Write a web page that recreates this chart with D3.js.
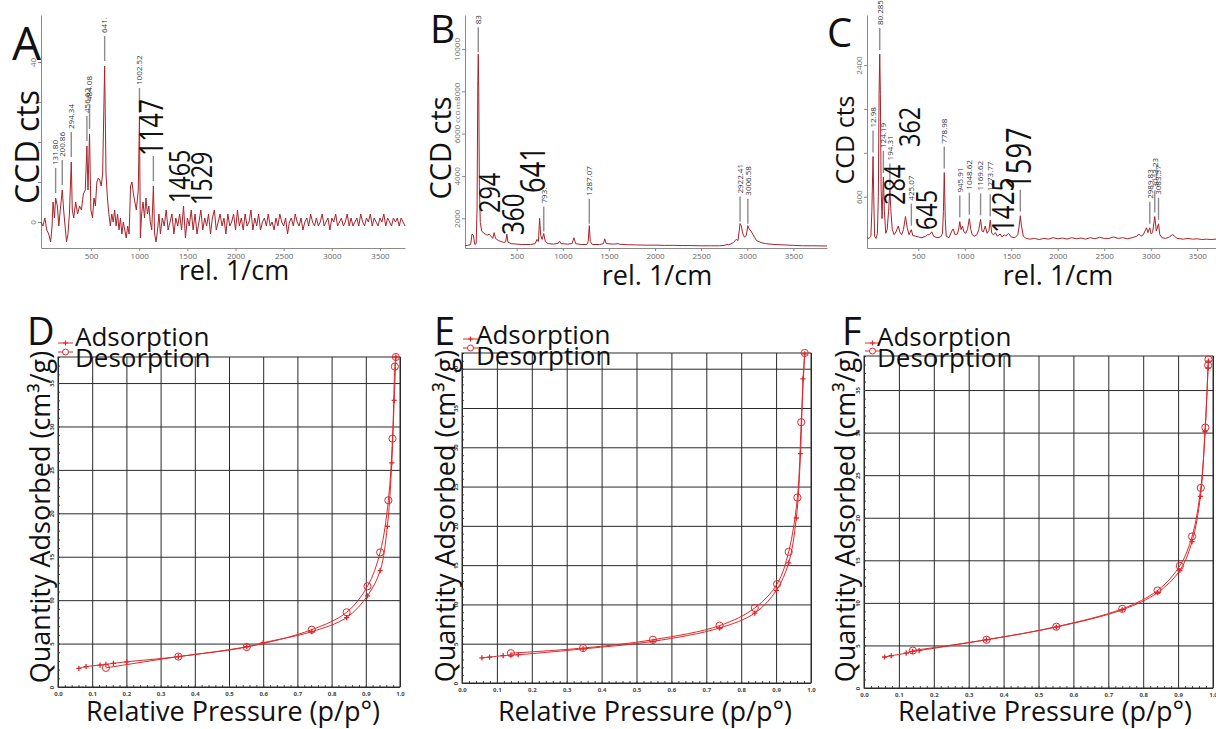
<!DOCTYPE html>
<html>
<head>
<meta charset="utf-8">
<script src="https://cdn.jsdelivr.net/npm/d3@7"></script>
<style>
  body { margin: 0; background: #fff; }
  svg { display: block; font-family: "Open Sans", sans-serif; }
</style>
</head>
<body>
<div id="chart"></div>
<script>
// ---- Raman spectra, [wavenumber (rel. 1/cm), CCD counts] ----
const spectrumA = [
  [-20,0],[0,-1],[20,1],[40,-2],[60,-3],[80,-5],[95,-1],[105,5],[120,1],[131.8,6],[150,4],[165,-1],[180,3],
  [200.86,8],[215,3],[230,-1],[245,-5],[260,-3],[275,2],[294.34,15],[305,3],[320,1],[340,5],[360,2],[380,4],
  [400,3],[420,7],[440,8],[456.62,19],[468,8],[484.08,22],[498,3],[515,1],[530,6],[545,4],[560,10],[575,11],
  [590,10.5],[605,9],[620,12],[641,39],[655,12],[670,6],[685,2],[700,-1],[715,2],[730,0],[745,3],[760,-1],
  [775,2],[790,-2],[805,1],[820,-3],[835,0],[850,-2],[865,-4],[880,-1],[895,-3],[910,9],[925,10],[940,7],
  [955,5],[970,3],[990,8],[1002.52,26],[1012,-4],[1025,2],[1040,5],[1055,1],[1070,6],[1085,2],[1100,4],
  [1115,0],[1130,-2],[1147,9],[1160,-3],[1175,-5],[1190,-2],[1205,2],
  [1220,-3],[1240,1],[1260,-1],[1280,3],[1300,-2],[1320,0],[1340,2],[1360,-3],[1380,1],[1400,-1],[1420,2],
  [1440,-2],[1460,4],[1480,-4],[1500,1],[1520,-1],[1540,3],[1560,-2],[1580,2],[1600,-3],[1620,0],[1640,3],
  [1660,-2],[1680,1],[1700,-1],[1720,2],[1740,-3],[1760,1],[1780,3],[1800,-2],[1820,0],[1840,2],[1860,-1],
  [1880,1],[1900,-3],[1920,2],[1940,-1],[1960,0],[1980,2],[2000,-2],[2020,3],[2040,-1],[2060,1],[2080,-2],
  [2100,2],[2120,-1],[2140,0],[2160,3],[2180,-2],[2200,1],[2220,-1],[2240,2],[2260,-2],[2280,0],[2300,1],
  [2320,-1],[2340,2],[2360,-1],[2380,0],[2400,-2],[2420,1],[2440,-1],[2460,2],[2480,0],[2500,-1],[2520,1],
  [2540,-3],[2560,0],[2580,1],[2600,-1],[2620,2],[2640,0],[2660,-1],[2680,1],[2700,-2],[2720,0],[2740,1],
  [2760,-1],[2780,2],[2800,0],[2820,-1],[2840,1],[2860,-1],[2880,0],[2900,2],[2920,-1],[2940,0],[2960,1],
  [2980,-2],[3000,1],[3020,0],[3040,2],[3060,-1],[3080,0],[3100,1],[3120,-1],[3140,0],[3160,2],[3180,-1],
  [3200,1],[3220,-1],[3240,0],[3260,1],[3280,-1],[3300,2],[3320,0],[3340,-1],[3360,1],[3380,0],[3400,2],
  [3420,-1],[3440,1],[3460,0],[3480,-1],[3500,1],[3520,0],[3540,2],[3560,-1],[3580,1],[3600,0],[3620,-1],
  [3640,1],[3660,0],[3680,1],[3700,-1],[3720,1],[3740,0],[3760,-1]
];
const spectrumB = [
  [-60,700],[-30,720],[0,760],[15,1250],[30,1200],[45,760],[60,800],[70,2500],[78,8500],[83,9750],[88,8000],
  [95,3500],[105,1800],[120,1400],[140,1300],[160,1250],[180,1200],[200,1250],[220,1150],[240,1050],[255,1320],
  [270,1050],[300,950],[330,900],[360,860],[380,880],[393,1250],[405,870],[440,800],[500,780],[550,760],
  [600,760],[650,760],[700,800],[720,1000],[735,900],[748,2000],[760,1200],[775,1000],[793,1280],[810,900],
  [840,800],[900,780],[950,820],[965,920],[980,800],[1050,780],[1100,800],[1120,1080],[1140,800],[1200,760],
  [1260,760],[1275,900],[1287.07,1650],[1298,900],[1320,760],[1400,760],[1440,800],[1455,1030],[1470,800],
  [1550,780],[1600,800],[1620,770],[1700,750],[1800,740],[1900,730],[2000,730],[2100,720],[2200,720],
  [2300,710],[2400,710],[2500,700],[2600,700],[2700,700],[2750,720],[2780,760],[2800,740],[2850,850],
  [2880,1000],[2900,950],[2922.41,1750],[2935,1650],[2950,1300],[2970,1100],[2990,1200],[3006.58,1650],
  [3020,1500],[3040,1400],[3060,1250],[3080,1100],[3100,950],[3150,850],[3200,800],[3300,760],[3400,740],
  [3500,720],[3600,700],[3700,700],[3865,690]
];
const spectrumC = [
  [-52,40],[-30,30],[-10,60],[0,400],[12.98,1150],[22,500],[30,60],[45,30],[60,100],[70,600],[78,2000],
  [85,2550],[92,2000],[100,700],[110,300],[124.19,870],[135,400],[150,100],[165,150],[180,400],[194.31,700],
  [205,400],[220,150],[240,80],[260,120],[284,200],[300,120],[320,80],[340,150],[362,330],[380,180],[400,80],
  [425.07,150],[440,70],[470,60],[500,50],[540,40],[580,60],[600,80],[620,80],[645,120],[665,60],[700,40],
  [740,50],[760,100],[770,400],[778.98,930],[790,300],[800,60],[830,40],[860,130],[875,160],[895,80],
  [920,90],[935,160],[945.91,260],[960,150],[975,200],[990,120],[1010,100],[1030,160],[1048.62,300],
  [1065,150],[1080,80],[1100,60],[1130,80],[1150,150],[1169.62,290],[1185,130],[1200,120],[1220,200],
  [1240,100],[1260,140],[1273.77,280],[1290,100],[1310,80],[1330,110],[1350,60],[1380,90],[1400,50],
  [1425,80],[1440,60],[1470,100],[1500,50],[1540,40],[1570,80],[1585,200],[1597,340],[1610,200],[1630,60],
  [1660,30],[1700,20],[1750,30],[1800,15],[1850,30],[1900,20],[1950,40],[2000,25],[2050,35],[2100,20],
  [2150,40],[2200,25],[2250,35],[2300,20],[2350,40],[2400,25],[2450,45],[2500,30],[2550,30],[2600,50],
  [2650,30],[2700,40],[2750,25],[2800,40],[2850,60],[2872,90],[2895,60],[2920,80],[2955,175],[2970,110],
  [2989.83,175],[3005,90],[3020,110],[3043.23,330],[3060,130],[3083.57,230],[3098,80],[3120,40],[3160,30],
  [3200,50],[3230,80],[3250,70],[3280,30],[3350,20],[3400,30],[3450,20],[3500,25],[3550,15],[3600,20],
  [3650,15],[3702,20]
];
const ramanTicks = [500, 1000, 1500, 2000, 2500, 3000, 3500];

// peak labels [wavenumber, text]
const peaksA = [[131.8,"131.80"],[200.86,"200.86"],[294.34,"294.34"],[456.62,"456.62"],[484.08,"484.08"],
  [641,"641."],[1002.52,"1002.52"],[1147,"1147"]];
const peaksB = [[83,"83"],[793,"793."],[1287.07,"1287.07"],[2922.41,"2922.41"],[3006.58,"3006.58"]];
const peaksC = [[12.98,"12.98"],[85,"80.285"],[124.19,"124.19"],[194.31,"194.31"],[425.07,"425.07"],
  [778.98,"778.98"],[945.91,"945.91"],[1048.62,"1048.62"],[1169.62,"1169.62"],[1273.77,"1273.77"],
  [1597,"1597"],[2989.83,"2989.83"],[3043.23,"3043.23"],[3083.57,"3083.57"]];

// ---- N2 isotherms, [relative pressure p/p°, quantity adsorbed cm³/g] ----
const adsD = [[0.061,2.15],[0.082,2.34],[0.123,2.53],[0.140,2.6],[0.162,2.73],[0.201,2.9],[0.352,3.5],
  [0.552,4.64],[0.600,5.1],[0.742,6.37],[0.844,8.0],[0.905,10.5],[0.942,13.4],[0.963,18.5],[0.976,25.8],
  [0.983,33.0],[0.988,38.0]];
const desD = [[0.140,2.2],[0.352,3.5],[0.552,4.6],[0.742,6.6],[0.844,8.6],[0.905,11.6],[0.942,15.5],
  [0.966,21.5],[0.978,28.6],[0.985,36.9],[0.988,38.0]];
const adsE = [[0.057,3.19],[0.079,3.3],[0.118,3.48],[0.140,3.56],[0.161,3.6],[0.347,4.34],[0.547,5.3],
  [0.738,7.0],[0.839,8.9],[0.901,11.8],[0.936,15.3],[0.958,21.0],[0.970,29.2],[0.977,38.7],[0.982,41.9]];
const desE = [[0.140,3.8],[0.347,4.45],[0.547,5.5],[0.738,7.3],[0.839,9.55],[0.903,12.6],[0.936,16.7],
  [0.961,23.6],[0.972,33.2],[0.982,42.0]];
const adsF = [[0.059,3.64],[0.078,3.79],[0.121,4.1],[0.139,4.3],[0.158,4.4],[0.351,5.67],[0.551,7.16],
  [0.740,9.19],[0.841,11.2],[0.905,13.8],[0.940,17.2],[0.964,22.5],[0.977,30.1],[0.986,37.6],[0.987,38.4]];
const desF = [[0.140,4.4],[0.351,5.67],[0.551,7.2],[0.740,9.3],[0.841,11.45],[0.905,14.35],[0.940,17.8],
  [0.965,23.5],[0.978,30.6],[0.986,37.9],[0.987,38.6]];
const pressureTicks = [0, 0.1, 0.2, 0.3, 0.4, 0.5, 0.6, 0.7, 0.8, 0.9, 1.0];
const quantityTicks = [0, 5, 10, 15, 20, 25, 30, 35, 40];
const legendKeys = ["Adsorption", "Desorption"];

const specColor = "#a8232b", isoColor = "#e0282c";
const narrow = 0.78; // big annotations are in a condensed face

const svg = d3.select("#chart").append("svg")
  .attr("width", 1216).attr("height", 729);

function rotText(g, x, y, t, size, opts = {}) {
  const sc = opts.sx ? ` scale(${opts.sx},1)` : "";
  return g.append("text")
    .attr("transform", `translate(${x},${y}) rotate(-90)${sc}`)
    .attr("dy", opts.dy == null ? "0.35em" : opts.dy)
    .attr("text-anchor", opts.anchor || "start")
    .attr("fill", opts.fill || "#111")
    .style("font-size", size + "px")
    .text(t);
}

function drawSpectrum(p) {
  const x = d3.scaleLinear().domain(p.xd).range([p.left, p.right]);
  const y = d3.scaleLinear().domain(p.yd).range([p.bottom, p.top]);
  const g = svg.append("g");

  const xa = g.append("g").attr("transform", `translate(0,${p.bottom})`)
    .call(d3.axisBottom(x).tickValues(ramanTicks).tickSize(3).tickSizeOuter(0).tickPadding(2)
      .tickFormat(d3.format("d")));
  const ya = g.append("g").attr("transform", `translate(${p.left},0)`)
    .call(d3.axisLeft(y).tickValues(p.yTicks).tickSize(3).tickSizeOuter(0)
      .tickFormat(d => p.yShown.includes(d) ? d : ""));
  [xa, ya].forEach(a => {
    a.select(".domain").attr("stroke", "#8a8a8a");
    a.selectAll(".tick line").attr("stroke", "#8a8a8a");
    a.selectAll(".tick text").attr("fill", "#666").style("font-size", "8px").style("font-family", "Open Sans");
  });
  ya.selectAll(".tick text").attr("x", 0).attr("dy", 0).attr("text-anchor", "middle")
    .attr("transform", "translate(-5,0) rotate(-90)");

  g.append("path").datum(p.data)
    .attr("fill", "none").attr("stroke", specColor).attr("stroke-width", 1)
    .attr("d", d3.line().x(d => x(d[0])).y(d => y(d[1])));

  // peak markers
  p.peaks.forEach(([wn, t]) => {
    const pk = d3.max(p.data.filter(d => Math.abs(d[0] - wn) <= 12), d => d[1]);
    const big = p.bigPeaks[t];
    const y0 = y(pk) - p.gap, y1 = y0 - p.len;
    g.append("line").attr("x1", x(wn)).attr("x2", x(wn)).attr("y1", y0).attr("y2", y1)
      .attr("stroke", "#8c8c8c").attr("stroke-width", 1.4);
    if (big) rotText(g, x(wn) - 2, y1, t, big, { sx: narrow });
    else rotText(g, x(wn), y1 - 3, t, 8, { fill: "#333" });
  });

  // loose big annotations
  p.notes.forEach(n => rotText(g, x(n.wn), y(n.v), n.t, n.fs, { sx: narrow }));

  rotText(g, p.titleY[0], p.titleY[1], "CCD cts", p.titleY[2], { anchor: "middle" });
  g.append("text").attr("x", p.titleX[0]).attr("y", p.titleX[1]).attr("text-anchor", "middle")
    .style("font-size", "27px").attr("fill", "#111").text("rel. 1/cm");
  g.append("text").attr("x", p.letter[0]).attr("y", p.letter[1]).style("font-size", p.letter[2] + "px")
    .attr("fill", "#111").text(p.name);
  return g;
}

drawSpectrum({
  name: "A", letter: [12, 60, 46],
  left: 41, right: 405, top: 15, bottom: 248, xd: [-20, 3760], yd: [-6.5, 51.75],
  data: spectrumA, yTicks: [0, 10, 20, 30, 40], yShown: [0, 40],
  peaks: peaksA, bigPeaks: { "1147": 32 }, gap: 5, len: 25,
  notes: [{ t: "1465", wn: 1423, v: 4.75, fs: 30 }, { t: "1529", wn: 1651, v: 4.25, fs: 30 }],
  titleY: [28, 147, 32], titleX: [234, 280]
});
const gB = drawSpectrum({
  name: "B", letter: [430, 43, 39],
  left: 465, right: 827, top: 15, bottom: 248, xd: [-61, 3865], yd: [595, 11605],
  data: spectrumB, yTicks: [2000, 4000, 6000, 8000, 10000], yShown: [2000, 4000, 6000, 8000, 10000],
  peaks: peaksB, bigPeaks: {}, gap: 2, len: 25,
  notes: [{ t: "294", wn: 210, v: 2250, fs: 30 }, { t: "360", wn: 460, v: 1210, fs: 31 },
          { t: "641", wn: 677, v: 3195, fs: 35 }],
  titleY: [441, 148, 29], titleX: [657, 285]
});
rotText(gB, 458, 112, "CCD cts", 6, { anchor: "middle", fill: "#666" });
drawSpectrum({
  name: "C", letter: [827, 47, 40],
  left: 867, right: 1216, top: 15, bottom: 248, xd: [-52, 3702], yd: [-101, 3084],
  data: spectrumC, yTicks: [600, 1200, 1800, 2400], yShown: [600, 2400],
  peaks: peaksC, bigPeaks: { "1597": 35 }, gap: 4, len: 22,
  notes: [{ t: "284", wn: 249, v: 487, fs: 30 }, { t: "362", wn: 410, v: 1280, fs: 30 },
          { t: "645", wn: 592, v: 145, fs: 30 }, { t: "1425", wn: 1409, v: 104, fs: 31 }],
  titleY: [845, 140, 25], titleX: [1058, 285]
});

// ---- isotherm panels ----
const plusPath = "M-2.6,0H2.6M0,-2.6V2.6";

function drawIso(p) {
  const x = d3.scaleLinear().domain([0, 1]).range([p.left, p.right]);
  const y = d3.scaleLinear().domain([0, p.ymax]).range([p.bottom, p.top]);
  const w = p.right - p.left, h = p.bottom - p.top;
  const g = svg.append("g");

  const gx = g.append("g").attr("transform", `translate(0,${p.bottom})`)
    .call(d3.axisBottom(x).tickValues(pressureTicks).tickSize(-h).tickSizeOuter(0).tickPadding(5)
      .tickFormat(d3.format(".1f")));
  const gy = g.append("g").attr("transform", `translate(${p.left},0)`)
    .call(d3.axisLeft(y).tickValues(quantityTicks.filter(v => v <= p.ymax)).tickSize(-w).tickSizeOuter(0));
  [gx, gy].forEach(a => {
    a.select(".domain").remove();
    a.selectAll(".tick line").attr("stroke", "#2a2a2a").attr("stroke-width", 1);
    a.selectAll(".tick text").attr("fill", "#444").style("font-size", "6px")
      .style("font-weight", "bold").style("font-family", "Open Sans");
  });
  gy.selectAll(".tick text").attr("x", 0).attr("dy", 0).attr("text-anchor", "middle")
    .attr("transform", "translate(-4,0) rotate(-90)");

  // minor ticks
  g.append("g").attr("transform", `translate(0,${p.bottom})`)
    .call(d3.axisBottom(x).ticks(50).tickSize(-2).tickSizeOuter(0).tickFormat(""))
    .call(a => { a.select(".domain").remove(); a.selectAll("line").attr("stroke", "#444"); });
  g.append("g").attr("transform", `translate(${p.left},0)`)
    .call(d3.axisLeft(y).ticks(p.ymax).tickSize(-2).tickSizeOuter(0).tickFormat(""))
    .call(a => { a.select(".domain").remove(); a.selectAll("line").attr("stroke", "#444"); });

  g.append("rect").attr("x", p.left).attr("y", p.top).attr("width", w).attr("height", h)
    .attr("fill", "none").attr("stroke", "#2a2a2a").attr("stroke-width", 1);

  const line = d3.line().x(d => x(d[0])).y(d => y(d[1])).curve(d3.curveCatmullRom.alpha(0.5));
  [p.ads, p.des].forEach(s => g.append("path").datum(s).attr("fill", "none")
    .attr("stroke", isoColor).attr("stroke-width", 1).attr("d", line));

  g.selectAll(".plus").data(p.ads).join("path").attr("class", "plus")
    .attr("transform", d => `translate(${x(d[0])},${y(d[1])})`)
    .attr("d", plusPath).attr("stroke", isoColor).attr("stroke-width", 1.3).attr("fill", "none");
  g.selectAll(".ring").data(p.des).join("circle").attr("class", "ring")
    .attr("cx", d => x(d[0])).attr("cy", d => y(d[1])).attr("r", 3.6)
    .attr("stroke", isoColor).attr("stroke-width", 1).attr("fill", "none");

  // legend
  legendKeys.forEach((k, i) => {
    const ly = p.leg.marks[i], lx = p.leg.mx;
    g.append("line").attr("x1", lx).attr("x2", lx + 15).attr("y1", ly).attr("y2", ly)
      .attr("stroke", isoColor).attr("stroke-width", 1);
    if (i === 0) g.append("path").attr("transform", `translate(${lx + 7.5},${ly})`).attr("d", plusPath)
      .attr("stroke", isoColor).attr("stroke-width", 1.2);
    else g.append("circle").attr("cx", lx + 7.5).attr("cy", ly).attr("r", 3)
      .attr("stroke", isoColor).attr("fill", "#fff");
    g.append("text").attr("x", p.leg.tx).attr("y", p.leg.base[i]).style("font-size", "26px")
      .attr("fill", "#111").text(k);
  });

  g.append("text").attr("x", p.letter[0]).attr("y", p.letter[1]).style("font-size", "38px")
    .attr("fill", "#111").text(p.name);
  g.append("text").attr("x", p.xTitle[0]).attr("y", p.xTitle[1]).attr("text-anchor", "middle")
    .style("font-size", "27px").attr("fill", "#111").text("Relative Pressure (p/p°)");
  rotText(g, p.yTitle[0], p.yTitle[1], "Quantity Adsorbed (cm³/g)", 27, { anchor: "middle", dy: 0 });
}

drawIso({
  name: "D", letter: [27, 345], left: 58, right: 400, top: 357, bottom: 687, ymax: 38,
  ads: adsD, des: desD,
  leg: { mx: 58, marks: [343, 352], tx: 75, base: [346, 367] },
  xTitle: [233, 721], yTitle: [50, 517]
});
drawIso({
  name: "E", letter: [434, 345], left: 462, right: 811, top: 353, bottom: 683, ymax: 42,
  ads: adsE, des: desE,
  leg: { mx: 463, marks: [339, 348], tx: 476, base: [344, 365] },
  xTitle: [645, 721], yTitle: [455, 516]
});
drawIso({
  name: "F", letter: [842, 345], left: 864, right: 1213, top: 356, bottom: 688, ymax: 39,
  ads: adsF, des: desF,
  leg: { mx: 865, marks: [343, 351], tx: 877, base: [346, 367] },
  xTitle: [1045, 721], yTitle: [855, 516]
});
</script>
</body>
</html>
